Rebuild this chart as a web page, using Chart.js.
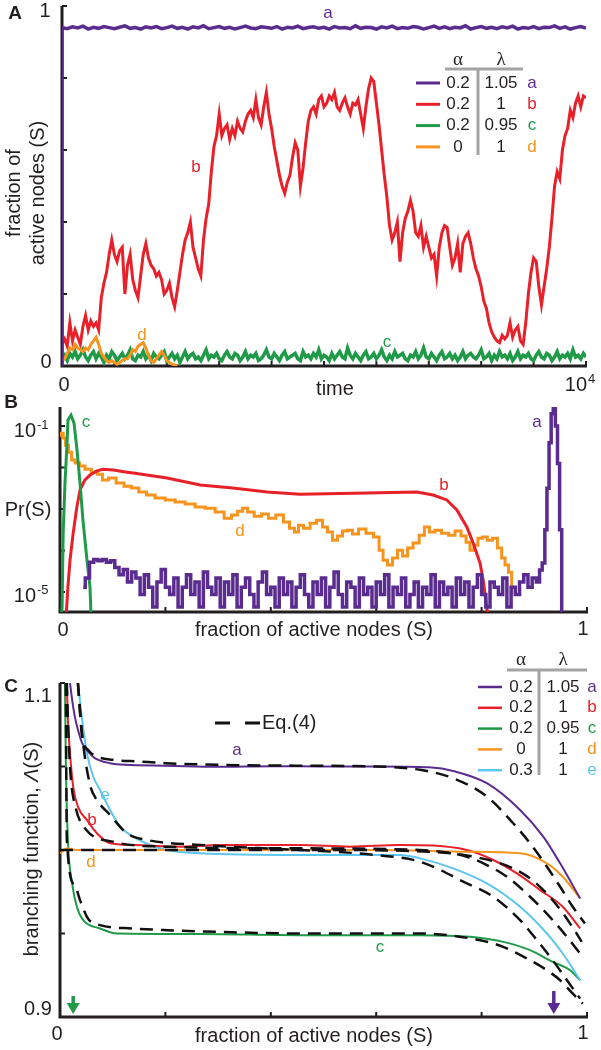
<!DOCTYPE html>
<html>
<head>
<meta charset="utf-8">
<script src="https://cdn.jsdelivr.net/npm/chart.js@4.4.0/dist/chart.umd.min.js"></script>
<style>
  html, body { margin: 0; padding: 0; background: #fff; }
  #wrap { position: relative; width: 601px; height: 1050px; }
  canvas { position: absolute; left: 0; top: 0; }
</style>
</head>
<body>
<div id="wrap">
  <canvas id="chartA" width="601" height="1050"></canvas>
  <canvas id="chartB" width="601" height="1050"></canvas>
  <canvas id="chartC" width="601" height="1050"></canvas>
</div>
<script>
// ---- Panel A: time series, one value every 50 steps (purple every 100) ----
const timeStep = 50;
const redA = [0.06,0.075,0.055,0.12,0.07,0.10,0.08,0.06,0.11,0.14,
  0.10,0.125,0.11,0.12,0.10,0.19,0.23,0.26,0.31,0.35,
  0.31,0.29,0.32,0.33,0.20,0.28,0.31,0.24,0.21,0.19,
  0.25,0.31,0.34,0.30,0.28,0.27,0.25,0.26,0.24,0.20,
  0.21,0.23,0.19,0.165,0.21,0.26,0.31,0.35,0.37,0.40,
  0.33,0.30,0.27,0.25,0.35,0.41,0.45,0.54,0.61,0.64,
  0.70,0.64,0.66,0.67,0.63,0.66,0.64,0.68,0.66,0.65,
  0.68,0.70,0.71,0.69,0.74,0.69,0.67,0.72,0.76,0.70,
  0.66,0.61,0.57,0.53,0.50,0.48,0.51,0.53,0.58,0.62,
  0.60,0.50,0.55,0.62,0.68,0.71,0.72,0.70,0.74,0.75,
  0.72,0.73,0.75,0.74,0.76,0.72,0.71,0.73,0.745,0.72,
  0.70,0.73,0.725,0.74,0.70,0.66,0.72,0.77,0.80,0.79,
  0.73,0.67,0.60,0.53,0.47,0.39,0.35,0.37,0.40,0.29,
  0.37,0.41,0.43,0.46,0.43,0.37,0.36,0.39,0.33,0.36,
  0.33,0.30,0.31,0.25,0.33,0.37,0.39,0.385,0.33,0.28,
  0.30,0.34,0.26,0.34,0.36,0.37,0.34,0.30,0.27,0.25,
  0.22,0.18,0.16,0.12,0.095,0.08,0.07,0.065,0.085,0.075,
  0.085,0.12,0.08,0.10,0.11,0.07,0.06,0.12,0.20,0.26,
  0.30,0.29,0.22,0.17,0.22,0.27,0.33,0.41,0.50,0.54,
  0.52,0.60,0.64,0.66,0.71,0.69,0.73,0.75,0.72,0.75,
  0.745];
const greenA = [0.02,0.03,0.015,0.035,0.025,0.04,0.02,0.03,0.045,0.025,
  0.015,0.03,0.04,0.02,0.035,0.025,0.01,0.03,0.02,0.04,
  0.03,0.015,0.025,0.035,0.02,0.03,0.045,0.02,0.015,0.03,
  0.025,0.04,0.02,0.03,0.015,0.035,0.025,0.02,0.03,0.04,
  0.015,0.025,0.035,0.02,0.03,0.01,0.025,0.04,0.02,0.03,
  0.035,0.02,0.025,0.015,0.03,0.045,0.02,0.03,0.025,0.035,
  0.02,0.015,0.03,0.04,0.025,0.02,0.035,0.03,0.015,0.025,
  0.04,0.02,0.03,0.025,0.035,0.015,0.02,0.03,0.045,0.025,
  0.02,0.035,0.025,0.015,0.03,0.04,0.02,0.025,0.03,0.035,
  0.02,0.015,0.04,0.025,0.03,0.02,0.035,0.025,0.045,0.02,
  0.03,0.025,0.015,0.035,0.02,0.03,0.04,0.025,0.02,0.05,
  0.03,0.02,0.035,0.025,0.015,0.03,0.04,0.02,0.025,0.035,
  0.02,0.03,0.045,0.025,0.015,0.03,0.02,0.04,0.025,0.03,
  0.035,0.02,0.015,0.03,0.025,0.04,0.02,0.03,0.05,0.025,
  0.02,0.035,0.025,0.015,0.03,0.04,0.02,0.025,0.035,0.02,
  0.03,0.015,0.025,0.04,0.02,0.03,0.035,0.025,0.02,0.03,
  0.045,0.02,0.025,0.035,0.015,0.03,0.02,0.04,0.025,0.03,
  0.02,0.035,0.015,0.025,0.04,0.02,0.03,0.025,0.035,0.02,
  0.015,0.03,0.04,0.025,0.02,0.035,0.03,0.015,0.025,0.04,
  0.02,0.03,0.025,0.035,0.02,0.045,0.025,0.03,0.02,0.035,
  0.025];
const purpleA = [0.94,0.937,0.942,0.939,0.944,0.936,0.941,0.938,0.943,0.94,
  0.937,0.941,0.945,0.938,0.94,0.936,0.942,0.939,0.943,0.937,
  0.94,0.944,0.938,0.941,0.936,0.942,0.939,0.945,0.937,0.94,
  0.943,0.938,0.941,0.936,0.94,0.944,0.939,0.937,0.942,0.94,
  0.938,0.943,0.936,0.941,0.939,0.944,0.937,0.94,0.942,0.938,
  0.941,0.936,0.943,0.939,0.94,0.937,0.945,0.938,0.941,0.94,
  0.936,0.942,0.939,0.944,0.937,0.94,0.938,0.943,0.941,0.936,
  0.94,0.944,0.938,0.942,0.937,0.941,0.939,0.945,0.936,0.94,
  0.943,0.938,0.941,0.937,0.942,0.939,0.944,0.936,0.94,0.938,
  0.943,0.937,0.941,0.94,0.945,0.938,0.942,0.936,0.94,0.943,
  0.939];
const orangeA = [0.015,0.02,0.035,0.05,0.045,0.06,0.05,0.045,0.04,0.05,
  0.045,0.06,0.07,0.08,0.06,0.035,0.025,0.015,0.01,0.015,
  0.01,0.005,0.01,0.015,0.02,0.02,0.03,0.045,0.04,0.055,
  0.06,0.065,0.05,0.03,0.015,0.01,0.02,0.03,0.04,0.03,
  0.015,0.01,0.005,0.003,0.0];
const ticksAX = [1000,2000,3000,4000,5000,6000,7000,8000,9000,10000];
const ticksAY = [0.2,0.4,0.6,0.8,1];

// ---- Panel B: distributions, Pr(S) given as log10 ----
const greenBS = [0.002,0.004,0.006,0.0095,0.0133,0.0152,0.0209,0.0266,0.0323,0.038,0.0436,0.0512,0.0569,0.059];
const greenBLog = [-5.7,-5.36,-3.58,-2.37,-1.41,-0.855,-0.735,-0.93,-1.58,-2.37,-3.27,-4.23,-4.88,-5.6];
const redBS = [0.011,0.013,0.015,0.019,0.025,0.032,0.038,0.047,0.057,0.07,
  0.082,0.101,0.127,0.139,0.203,0.266,0.328,0.393,0.455,0.583,
  0.677,0.708,0.734,0.753,0.772,0.784,0.797,0.803,0.808,0.812];
const redBLog = [-5.7,-5.3,-4.88,-4.23,-3.58,-2.95,-2.54,-2.30,-2.18,-2.08,
  -2.04,-2.06,-2.11,-2.13,-2.25,-2.42,-2.49,-2.59,-2.64,-2.61,
  -2.59,-2.66,-2.78,-3.02,-3.43,-3.82,-4.30,-4.71,-5.19,-5.6];
const orangeBS = [0,0.004,0.008,0.013,0.019,0.025,0.032,0.042,0.053,0.066,
  0.076,0.085,0.099,0.114,0.129,0.142,0.157,0.171,0.19,0.209,
  0.228,0.247,0.266,0.285,0.304,0.319,0.332,0.342,0.351,0.361,
  0.376,0.389,0.402,0.417,0.431,0.44,0.45,0.455,0.469,0.48,
  0.493,0.503,0.512,0.522,0.531,0.541,0.55,0.56,0.573,0.588,
  0.602,0.609,0.617,0.626,0.636,0.645,0.655,0.664,0.676,0.687,
  0.696,0.706,0.717,0.731,0.744,0.755,0.767,0.774,0.782,0.789,
  0.797,0.806,0.816,0.825,0.835,0.841,0.848,0.854,0.86];
const orangeBLog = [-1.22,-1.17,-1.29,-1.46,-1.63,-1.82,-1.89,-1.96,-2.04,-2.11,
  -2.16,-2.30,-2.25,-2.37,-2.45,-2.49,-2.59,-2.66,-2.73,-2.78,
  -2.83,-2.88,-2.95,-2.98,-3.07,-3.22,-3.14,-3.05,-2.98,-3.07,
  -3.17,-3.12,-3.22,-3.14,-3.31,-3.46,-3.55,-3.39,-3.46,-3.34,
  -3.27,-3.43,-3.55,-3.75,-3.65,-3.53,-3.51,-3.60,-3.48,-3.58,
  -3.67,-3.99,-4.23,-4.35,-4.18,-3.99,-4.13,-3.94,-3.82,-3.63,
  -3.43,-3.55,-3.51,-3.58,-3.63,-3.53,-3.65,-3.80,-3.99,-3.87,
  -3.70,-3.67,-3.75,-3.70,-3.94,-4.18,-4.35,-4.52,-5.02];
// purple histogram: counts per bin of 0.008, starting at S = 0.044
const purpleBStart = 0.044;
const purpleBBin = 0.008;
const purpleBCounts = [3,5,12,14,13,14,12,13,9,6,
  8,4,7,5,2,6,3,1,4,8,
  3,2,5,1,3,6,2,4,1,7,
  3,2,5,1,4,2,6,1,3,5,
  2,1,4,7,2,3,1,5,2,4,
  1,3,6,2,1,4,2,5,1,3,
  7,2,1,4,3,1,5,2,3,1,
  4,2,6,1,3,2,5,1,2,4,
  1,3,2,6,1,4,2,3,1,5,
  2,4,1,3,6,2,1,4,3,2,
  5,1,3,2,4,6,3,5,4];
const oneCountLog = -5.36;
const purplePeakS = [0.912,0.918,0.922,0.926,0.930,0.934,0.938,0.942,0.946,0.950,0.954];
const purplePeakLog = [-4.47,-4.3,-3.5,-2.5,-1.4,-0.7,-0.57,-1.0,-1.9,-3.5,-5.6];
const ticksBX = [0.2,0.4,0.6,0.8,1];
const ticksBY = [1e-5,1e-4,1e-3,1e-2,1e-1];

// ---- Panel C: branching function, solid = simulation, dashed = Eq.(4) ----
const cA_S = [0.019,0.023,0.028,0.034,0.042,0.053,0.066,0.095,0.123,0.2,0.3,0.4,0.5,0.6,0.7,0.75,0.81,0.873,0.917,0.949,0.987];
const cA_L = [1.1,1.09,1.08,1.072,1.064,1.059,1.055,1.052,1.051,1.0505,1.0498,1.0502,1.050,1.050,1.0495,1.047,1.040,1.024,1.008,0.992,0.971];
const cB_S = [0.013,0.015,0.019,0.025,0.034,0.051,0.070,0.095,0.139,0.233,0.3,0.455,0.55,0.645,0.772,0.822,0.867,0.911,0.954,0.987];
const cB_L = [1.1,1.078,1.058,1.038,1.026,1.018,1.010,1.004,1.003,1.002,1.003,1.003,1.002,1.003,1.000,0.994,0.986,0.976,0.966,0.953];
const cC_S = [0.0095,0.011,0.015,0.023,0.032,0.044,0.076,0.108,0.266,0.455,0.683,0.778,0.841,0.892,0.935,0.968,0.987];
const cC_L = [1.1,1.054,1.006,0.980,0.966,0.958,0.953,0.950,0.9497,0.949,0.949,0.948,0.945,0.940,0.933,0.928,0.922];
const cD_S = [0,0.015,0.03,0.076,0.2,0.4,0.6,0.772,0.873,0.924,0.954,0.987];
const cD_L = [0.998,1.001,1.0,1.0,1.0,1.0,1.0,0.999,0.998,0.992,0.984,0.971];
const cE_S = [0.034,0.042,0.051,0.063,0.076,0.095,0.114,0.139,0.171,0.203,0.266,0.455,0.645,0.683,0.746,0.810,0.873,0.924,0.954,0.987];
const cE_L = [1.1,1.078,1.058,1.044,1.036,1.024,1.014,1.008,1.003,1.000,0.998,0.997,0.997,0.995,0.989,0.980,0.966,0.950,0.938,0.922];
const eqA_S = [0.034,0.042,0.053,0.07,0.1,0.15,0.2,0.3,0.45,0.6,0.683,0.746,0.81,0.86,0.892,0.924,0.949,0.973,0.996];
const eqA_L = [1.1,1.068,1.060,1.056,1.054,1.053,1.052,1.051,1.0505,1.050,1.048,1.043,1.032,1.016,1.004,0.990,0.978,0.966,0.956];
const eqB_S = [0.013,0.016,0.02,0.03,0.05,0.1,0.2,0.455,0.683,0.772,0.81,0.848,0.892,0.935,0.962,0.987];
const eqB_L = [1.1,1.07,1.045,1.025,1.012,1.005,1.002,1.001,1.0,0.996,0.991,0.984,0.972,0.958,0.948,0.938];
const eqC_S = [0.011,0.013,0.028,0.038,0.053,0.076,0.139,0.203,0.298,0.455,0.683,0.797,0.841,0.892,0.924,0.949,0.973,0.992];
const eqC_L = [1.1,1.006,0.979,0.970,0.959,0.955,0.953,0.952,0.951,0.950,0.950,0.946,0.942,0.934,0.928,0.922,0.914,0.908];
const eqD_S = [0,0.2,0.5,0.7,0.8,0.86,0.9,0.94,0.97,0.99];
const eqD_L = [1.0,1.0,1.0,0.999,0.995,0.989,0.981,0.968,0.955,0.945];
const eqE_S = [0.034,0.042,0.057,0.070,0.095,0.127,0.165,0.266,0.455,0.6,0.683,0.772,0.822,0.873,0.905,0.935,0.962,0.987];
const eqE_L = [1.1,1.069,1.039,1.030,1.021,1.010,1.006,1.003,1.000,0.997,0.993,0.980,0.972,0.958,0.946,0.934,0.922,0.911];
const arrowS = [0.025, 0.937];
const ticksCX = [0.2,0.4,0.6,0.8,1];
const ticksCY = [0.95,1,1.05,1.1];

// legend tables
const tagsA = ['a','b','c','d'];
const alphaA = ['0.2','0.2','0.2','0'];
const lambdaA = ['1.05','1','0.95','1'];
const tagsC = ['a','b','c','d','e'];
const alphaC = ['0.2','0.2','0.2','0','0.3'];
const lambdaC = ['1.05','1','0.95','1','1'];

const COLORS = { a: '#5b2c8f', b: '#e8202a', c: '#1f9a48', d: '#f7941e', e: '#5cc6f0' };
const INK = '#231f20';
const GRAY = '#a3a3a3';
const FONT = "'Liberation Sans', Arial, sans-serif";
const SERIF = "'Liberation Serif', 'DejaVu Serif', serif";

function pts(xs, ys) {
  return xs.map((x, i) => ({ x, y: ys[i] }));
}
function logPts(xs, logs) {
  return xs.map((x, i) => ({ x, y: Math.pow(10, logs[i]) }));
}
function series(values, step, t0 = 0) {
  return values.map((v, i) => ({ x: t0 + i * step, y: v }));
}

function text(ctx, s, x, y, size, color = INK, align = 'center', font = FONT, style = '') {
  ctx.save();
  ctx.font = `${style} ${size}px ${font}`;
  ctx.fillStyle = color;
  ctx.textAlign = align;
  ctx.textBaseline = 'middle';
  ctx.fillText(s, x, y);
  ctx.restore();
}

function vtext(ctx, parts, cx, cy, size) {
  // parts: [[string, style]] drawn rotated -90deg, centred on (cx, cy)
  ctx.save();
  ctx.translate(cx, cy);
  ctx.rotate(-Math.PI / 2);
  ctx.fillStyle = INK;
  ctx.textBaseline = 'middle';
  let total = 0;
  parts.forEach(([s, st]) => { ctx.font = `${st} ${size}px ${FONT}`; total += ctx.measureText(s).width; });
  let x = -total / 2;
  parts.forEach(([s, st]) => {
    ctx.font = `${st} ${size}px ${FONT}`;
    ctx.textAlign = 'left';
    ctx.fillText(s, x, 0);
    x += ctx.measureText(s).width;
  });
  ctx.restore();
}

function drawFrame(chart, xTicks, yTicks) {
  const { ctx, chartArea: a, scales } = chart;
  ctx.save();
  ctx.strokeStyle = INK;
  ctx.lineWidth = 3;
  ctx.beginPath();
  ctx.moveTo(a.left, a.top);
  ctx.lineTo(a.left, a.bottom);
  ctx.lineTo(a.right + 1, a.bottom);
  ctx.stroke();
  ctx.lineWidth = 2;
  ctx.beginPath();
  xTicks.forEach((v) => {
    const px = scales.x.getPixelForValue(v);
    ctx.moveTo(px, a.bottom);
    ctx.lineTo(px, a.bottom - 5);
  });
  yTicks.forEach((v) => {
    const py = scales.y.getPixelForValue(v);
    ctx.moveTo(a.left, py);
    ctx.lineTo(a.left + 5, py);
  });
  ctx.stroke();
  ctx.restore();
}

function drawTable(ctx, t) {
  ctx.save();
  text(ctx, 'α', t.colA, t.headY, 19, INK, 'center', SERIF);
  text(ctx, 'λ', t.colL, t.headY, 19, INK, 'center', SERIF);
  ctx.strokeStyle = GRAY;
  ctx.lineWidth = 3;
  ctx.beginPath();
  ctx.moveTo(t.hx1, t.hy); ctx.lineTo(t.hx2, t.hy);
  ctx.moveTo(t.vx, t.hy); ctx.lineTo(t.vx, t.vy2);
  ctx.stroke();
  t.tags.forEach((tag, i) => {
    const y = t.rowY0 + i * t.rowDy;
    ctx.strokeStyle = COLORS[tag];
    ctx.lineWidth = t.swW;
    ctx.beginPath();
    ctx.moveTo(t.sw1, y); ctx.lineTo(t.sw2, y);
    ctx.stroke();
    text(ctx, t.alpha[i], t.colA, y, 17);
    text(ctx, t.lambda[i], t.colL, y, 17);
    text(ctx, tag, t.colTag, y, 17, COLORS[tag]);
  });
  ctx.restore();
}

function sup(ctx, base, exp, x, y) {
  text(ctx, base, x, y, 20, INK, 'right');
  text(ctx, exp, x + 1, y - 6, 13, INK, 'left');
}

const baseOptions = (padding, xs, ys) => ({
  responsive: false,
  animation: false,
  devicePixelRatio: 1,
  layout: { padding },
  plugins: { legend: { display: false }, tooltip: { enabled: false } },
  elements: { point: { radius: 0 } },
  scales: { x: xs, y: ys },
});

// ---------------- Panel A ----------------
const panelA = {
  id: 'panelA',
  beforeDatasetsDraw(chart) { drawFrame(chart, ticksAX, ticksAY); },
  afterDatasetsDraw(chart) {
    const ctx = chart.ctx;
    text(ctx, 'A', 15, 14, 19, INK, 'center', FONT, 'bold');
    text(ctx, '1', 45, 11, 20);
    text(ctx, '0', 46, 362, 20);
    text(ctx, '0', 64, 385, 20);
    sup(ctx, '10', '4', 587, 385);
    text(ctx, 'time', 335, 389, 20);
    vtext(ctx, [['fraction of', '']], 14, 193, 20);
    vtext(ctx, [['active nodes (S)', '']], 38, 193, 20);
    text(ctx, 'a', 328, 13, 17, COLORS.a);
    text(ctx, 'b', 196, 167, 17, COLORS.b);
    text(ctx, 'c', 387, 342, 17, COLORS.c);
    text(ctx, 'd', 142, 335, 17, COLORS.d);
    drawTable(ctx, {
      tags: tagsA, alpha: alphaA, lambda: lambdaA,
      colA: 458, colL: 501, colTag: 532, headY: 60,
      hx1: 445, hx2: 523, hy: 69, vx: 478, vy2: 155,
      rowY0: 83, rowDy: 21.3, sw1: 416, sw2: 440, swW: 3,
    });
  },
};

new Chart(document.getElementById('chartA'), {
  type: 'line',
  data: {
    datasets: [
      { data: [{ x: 0, y: 0 }].concat(series(purpleA, 100)), borderColor: COLORS.a, borderWidth: 3.5, order: 1 },
      { data: series(orangeA, timeStep), borderColor: COLORS.d, borderWidth: 3, order: 2 },
      { data: series(redA, timeStep), borderColor: COLORS.b, borderWidth: 3, order: 3 },
      { data: series(greenA, timeStep), borderColor: COLORS.c, borderWidth: 3.5, order: 4 },
    ],
  },
  options: baseOptions({ left: 62, top: 6, right: 15, bottom: 684 },
    { type: 'linear', display: false, min: 0, max: 10000 },
    { type: 'linear', display: false, min: 0, max: 1 }),
  plugins: [panelA],
});

// ---------------- Panel B ----------------
const purpleBData = purpleBCounts.map((c, i) => ({
  x: purpleBStart + i * purpleBBin,
  y: c * Math.pow(10, oneCountLog),
})).concat(logPts(purplePeakS, purplePeakLog));

const panelB = {
  id: 'panelB',
  beforeDatasetsDraw(chart) { drawFrame(chart, ticksBX, ticksBY); },
  afterDatasetsDraw(chart) {
    const ctx = chart.ctx;
    text(ctx, 'B', 11, 403, 19, INK, 'center', FONT, 'bold');
    sup(ctx, '10', '-1', 36, 431);
    sup(ctx, '10', '-5', 36, 596);
    text(ctx, 'Pr(S)', 28, 510, 20);
    text(ctx, '0', 63, 630, 20);
    text(ctx, 'fraction of active nodes (S)', 314, 630, 20);
    text(ctx, '1', 583, 629, 20);
    text(ctx, 'c', 86, 422, 17, COLORS.c);
    text(ctx, 'a', 537, 422, 17, COLORS.a);
    text(ctx, 'b', 444, 485, 17, COLORS.b);
    text(ctx, 'd', 240, 531, 17, COLORS.d);
  },
};

new Chart(document.getElementById('chartB'), {
  type: 'line',
  data: {
    datasets: [
      { data: purpleBData, borderColor: COLORS.a, borderWidth: 3.5, stepped: 'middle', order: 1 },
      { data: logPts(greenBS, greenBLog), borderColor: COLORS.c, borderWidth: 3, order: 2 },
      { data: logPts(redBS, redBLog), borderColor: COLORS.b, borderWidth: 3, order: 3 },
      { data: logPts(orangeBS, orangeBLog), borderColor: COLORS.d, borderWidth: 3, stepped: 'middle', order: 4 },
    ],
  },
  options: baseOptions({ left: 60, top: 407, right: 14, bottom: 438 },
    { type: 'linear', display: false, min: 0, max: 1 },
    { type: 'logarithmic', display: false, min: Math.pow(10, -5.48), max: Math.pow(10, -0.54) }),
  plugins: [panelB],
});

// ---------------- Panel C ----------------
function arrow(ctx, x, y1, y2, color) {
  ctx.save();
  ctx.strokeStyle = color;
  ctx.fillStyle = color;
  ctx.lineWidth = 3.5;
  ctx.beginPath();
  ctx.moveTo(x, y1); ctx.lineTo(x, y2 - 9);
  ctx.stroke();
  ctx.beginPath();
  ctx.moveTo(x - 6.5, y2 - 11); ctx.lineTo(x + 6.5, y2 - 11); ctx.lineTo(x, y2);
  ctx.closePath();
  ctx.fill();
  ctx.restore();
}

const panelC = {
  id: 'panelC',
  beforeDatasetsDraw(chart) { drawFrame(chart, ticksCX, ticksCY); },
  afterDatasetsDraw(chart) {
    const ctx = chart.ctx;
    const sx = chart.scales.x;
    text(ctx, 'C', 11, 687, 19, INK, 'center', FONT, 'bold');
    text(ctx, '1.1', 38, 696, 20);
    text(ctx, '0.9', 38, 1009, 20);
    text(ctx, '0', 57, 1034, 20);
    text(ctx, 'fraction of active nodes (S)', 314, 1036, 20);
    text(ctx, '1', 583, 1033, 20);
    vtext(ctx, [['branching function, ', ''], ['Λ', 'italic'], ['(S)', '']], 32, 849, 20);
    text(ctx, 'a', 237, 750, 17, COLORS.a);
    text(ctx, 'e', 105, 795, 17, COLORS.e);
    text(ctx, 'b', 92, 820, 17, COLORS.b);
    text(ctx, 'd', 91, 862, 17, COLORS.d);
    text(ctx, 'c', 380, 947, 17, COLORS.c);
    // Eq.(4) key
    ctx.save();
    ctx.strokeStyle = '#111';
    ctx.lineWidth = 3;
    ctx.beginPath();
    ctx.moveTo(215, 723); ctx.lineTo(230, 723);
    ctx.moveTo(245, 723); ctx.lineTo(260, 723);
    ctx.stroke();
    ctx.restore();
    text(ctx, 'Eq.(4)', 262, 723, 20, INK, 'left');
    drawTable(ctx, {
      tags: tagsC, alpha: alphaC, lambda: lambdaC,
      colA: 521, colL: 563, colTag: 592, headY: 660,
      hx1: 507, hx2: 587, hy: 670, vx: 539, vy2: 775,
      rowY0: 687, rowDy: 20.8, sw1: 478, sw2: 502, swW: 2.5,
    });
    arrow(ctx, sx.getPixelForValue(arrowS[0]), 996, 1014, COLORS.c);
    arrow(ctx, sx.getPixelForValue(arrowS[1]), 991, 1014, COLORS.a);
  },
};

const solid = (data, color, order) => ({
  data, borderColor: color, borderWidth: 2, cubicInterpolationMode: 'monotone', order,
});
const dashed = (data, order) => ({
  data, borderColor: '#111', borderWidth: 2.5, borderDash: [13, 8], cubicInterpolationMode: 'monotone', order,
});

new Chart(document.getElementById('chartC'), {
  type: 'line',
  data: {
    datasets: [
      dashed(pts(eqA_S, eqA_L), 0),
      dashed(pts(eqB_S, eqB_L), 0),
      dashed(pts(eqC_S, eqC_L), 0),
      dashed(pts(eqD_S, eqD_L), 0),
      dashed(pts(eqE_S, eqE_L), 0),
      solid(pts(cA_S, cA_L), COLORS.a, 1),
      solid(pts(cD_S, cD_L), COLORS.d, 2),
      solid(pts(cB_S, cB_L), COLORS.b, 3),
      solid(pts(cE_S, cE_L), COLORS.e, 4),
      solid(pts(cC_S, cC_L), COLORS.c, 5),
    ],
  },
  options: baseOptions({ left: 60, top: 683, right: 14, bottom: 33 },
    { type: 'linear', display: false, min: 0, max: 1 },
    { type: 'linear', display: false, min: 0.9, max: 1.1 }),
  plugins: [panelC],
});
</script>
</body>
</html>
